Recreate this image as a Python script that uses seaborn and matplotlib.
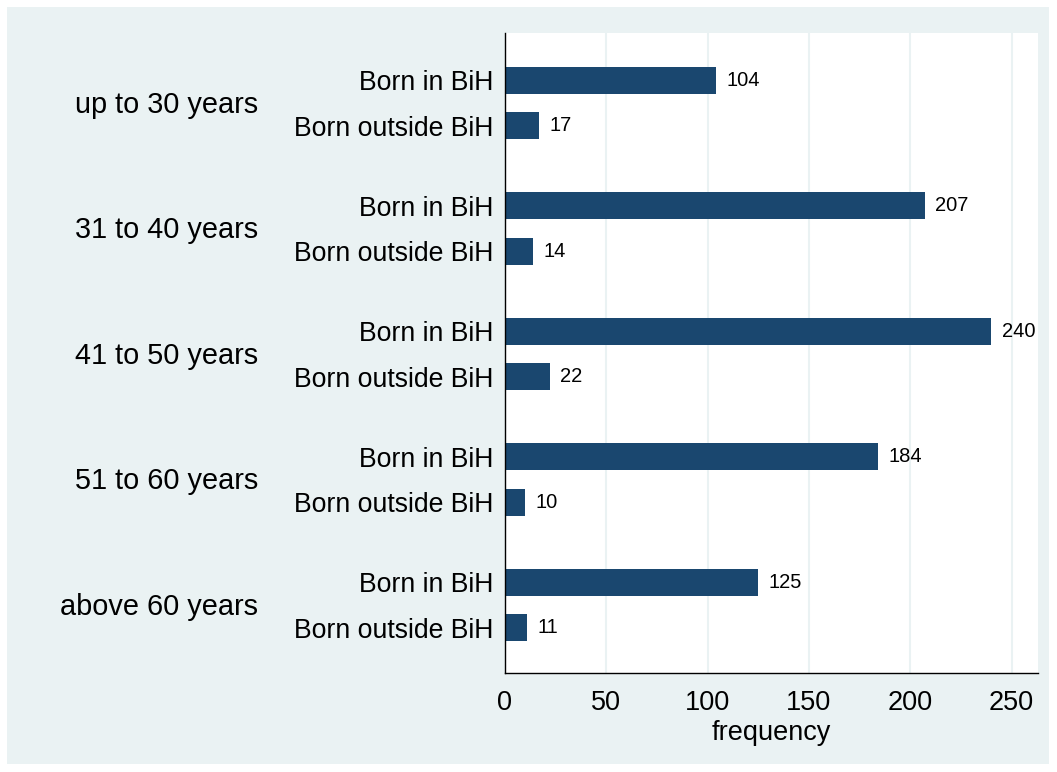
import numpy as np
import pandas as pd
import matplotlib.pyplot as plt
import matplotlib.patches as mpatches
import matplotlib.transforms as mtransforms
import seaborn as sns

age_groups = ["up to 30 years", "31 to 40 years", "41 to 50 years", "51 to 60 years", "above 60 years"]
birthplaces = ["Born in BiH", "Born outside BiH"]
born_in = [104, 207, 240, 184, 125]
born_out = [17, 14, 22, 10, 11]

df = pd.DataFrame({
    "age": age_groups * 2,
    "birth": [birthplaces[0]] * 5 + [birthplaces[1]] * 5,
    "frequency": born_in + born_out,
})

sns.set_style("white")
plt.rcParams['font.family'] = ['Liberation Sans', 'DejaVu Sans']
plt.rcParams['text.color'] = 'black'
plt.rcParams['xtick.color'] = 'black'
plt.rcParams['ytick.color'] = 'black'
plt.rcParams['axes.labelcolor'] = 'black'

bg = "#EAF2F3"
navy = "#1A476F"

fig = plt.figure(figsize=(10.57, 7.72), dpi=100)
fig.patches.append(mpatches.Rectangle((7 / 1057, 8 / 772), 1042 / 1057, 757 / 772,
                                      transform=fig.transFigure, facecolor=bg,
                                      edgecolor="none", zorder=0))
ax = fig.add_axes([505 / 1057, 99 / 772, 533 / 1057, 640 / 772])
ax.set_zorder(1)

sns.barplot(data=df, x="frequency", y="age", hue="birth", order=age_groups,
            hue_order=birthplaces, palette=[navy, navy], width=0.72, gap=0.4,
            legend=False, ax=ax, saturation=1, edgecolor="none")

for cont in ax.containers:
    ax.bar_label(cont, fmt="%d", padding=7.5, fontsize=14.5, color="black")

ax.set_xlim(0, 263)
ax.set_ylim(4.542, -0.558)
ax.set_xticks([0, 50, 100, 150, 200, 250])
ax.tick_params(axis="x", labelsize=19.5, length=7, width=1, direction="out", color="black", pad=5)
ax.xaxis.grid(True, color=bg, linewidth=1.5)
ax.set_axisbelow(True)

pos = []
labs = []
for i in range(len(age_groups)):
    pos += [i - 0.18, i + 0.18]
    labs += birthplaces
ax.set_yticks(pos)
ax.set_yticklabels(labs, fontsize=19.2)
ax.tick_params(axis="y", length=0, pad=8.5)

trans = mtransforms.blended_transform_factory(ax.transAxes, ax.transData)
for i, g in enumerate(age_groups):
    ax.text(-0.4634, i + 0.015, g, transform=trans, ha="right", va="center", fontsize=20.8)

ax.set_xlabel("frequency", fontsize=19.5, labelpad=3)
ax.set_ylabel("")

sns.despine(ax=ax, top=True, right=True)
ax.spines["left"].set_color("black")
ax.spines["bottom"].set_color("black")
ax.spines["left"].set_linewidth(1)
ax.spines["bottom"].set_linewidth(1)

fig.savefig("out.png", dpi=100, facecolor="white")
